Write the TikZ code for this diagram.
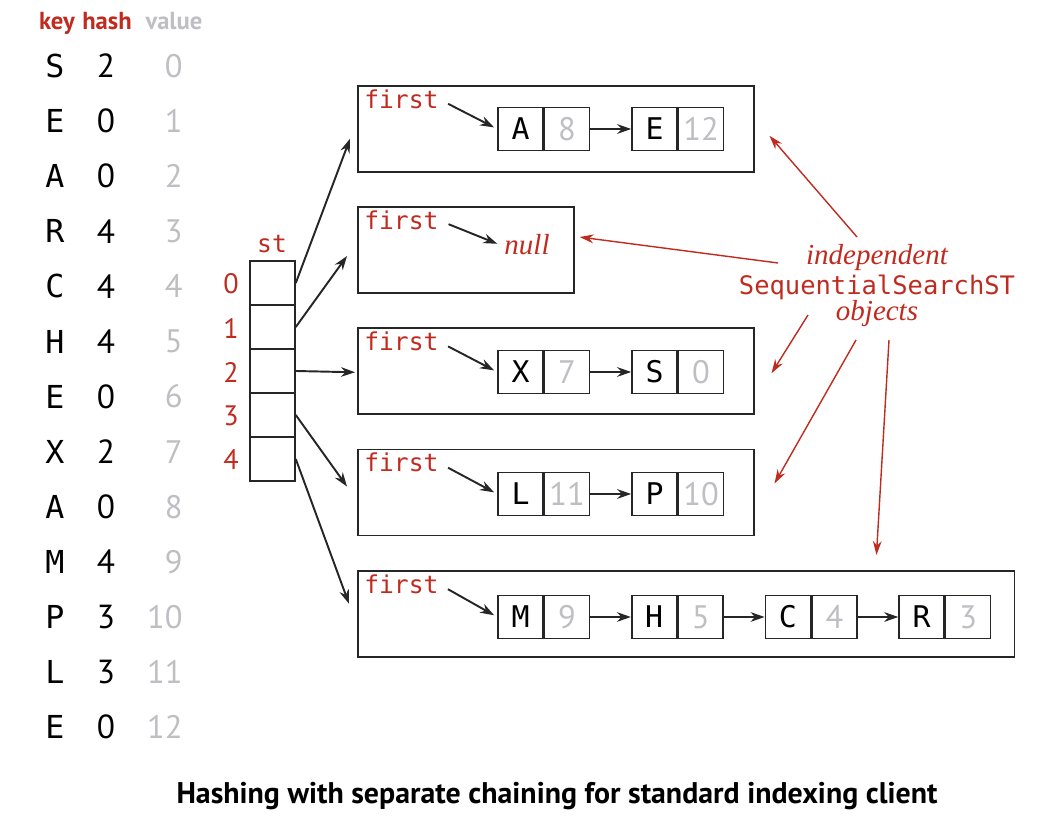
\documentclass[tikz,border=0pt]{standalone}
\usepackage{fontspec}
\setmonofont{DejaVu Sans Mono}
\setsansfont{PT Sans}
\newfontfamily\annotfont{Liberation Serif}
\usetikzlibrary{positioning,arrows.meta}

\begin{document}
\begin{tikzpicture}[x=0.02cm, y=-0.02cm, node distance=0pt]
\definecolor{hashred}{RGB}{192,43,32}
\definecolor{valgray}{RGB}{190,190,195}
\tikzset{
    cell/.style={draw=black!85, line width=0.9pt, minimum width=0.9cm, minimum height=0.86cm, inner sep=0pt, font=\ttfamily\fontsize{17}{17}\selectfont},
    valcell/.style={cell, text=valgray, font=\sffamily\fontsize{18.5}{18.5}\selectfont},
    listbox/.style={draw=black!85, line width=0.9pt, minimum height=1.72cm, inner sep=0pt, anchor=north west},
    redtt/.style={text=hashred, inner sep=0pt, font=\ttfamily\fontsize{14}{14}\selectfont},
    reddig/.style={text=hashred, inner sep=0pt, font=\sffamily\fontsize{16}{16}\selectfont},
    redit/.style={text=hashred, inner sep=0pt, anchor=base, font=\annotfont\itshape\fontsize{16.5}{16.5}\selectfont},
    hdr/.style={inner sep=0pt, anchor=base, font=\sffamily\bfseries\fontsize{14}{14}\selectfont},
    keytxt/.style={inner sep=0pt, font=\ttfamily\fontsize{18}{18}\selectfont},
    hashtxt/.style={inner sep=0pt, font=\sffamily\fontsize{19}{19}\selectfont},
    valtxt/.style={inner sep=0pt, anchor=east, text=valgray, font=\sffamily\fontsize{18.5}{18.5}\selectfont},
    ptr/.style={-{Stealth[length=8pt, width=5.5pt]}, line width=1.1pt, black!85},
    redptr/.style={-{Stealth[length=8pt, width=5pt]}, line width=0.8pt, hashred},
}
\useasboundingbox (0,0) rectangle (1048,830);

% Tabelle key / hash / value
\node[hdr, text=hashred] (hkey) at (57,30) {key};
\node[hdr, text=hashred] (hhash) at (107,30) {hash};
\node[hdr, text=valgray] (hval) at (174,30) {value};
\foreach \k/\h [count=\r from 0] in {S/2,E/0,A/0,R/4,C/4,H/4,E/0,X/2,A/0,M/4,P/3,L/3,E/0} {
    \node[keytxt] (tkey\r) at (55,66+\r*55.1) {\k};
    \node[hashtxt] (thash\r) at (106,66+\r*55.1) {\h};
    \node[valtxt] (tval\r) at (183,66+\r*55.1) {\r};
}

% Array st
\node[redtt] (stlbl) at (272,244) {st};
\foreach \i in {0,...,4} {
    \node[cell, minimum height=0.88cm] (st\i) at (272.5,283+\i*44) {};
    \node[reddig] (idx\i) at (231,284+\i*44) {\i};
}

% Listen (SequentialSearchST)
\foreach \i/\w in {0/7.92, 1/4.32, 2/7.92, 3/7.92, 4/13.14} {
    \node[listbox, minimum width=\w cm] (list\i) at (357,85+\i*121.25) {};
    \node[redtt, anchor=west] (first\i) at (364,99+\i*121.25) {first};
}

% Liste 0
\foreach \k/\v [count=\j] in {A/8, E/12} {
    \node[cell] (elemk0\j) at (520.5+\j*134-134,129) {\k};
    \node[valcell, right=of elemk0\j] (elemv0\j) {\v};
}
\draw[ptr] (elemv01.east) -- (elemk02.west);

% Liste 1 (leer)
\node[redit, inner sep=2pt] (null) at (527,255) {null};

% Liste 2
\foreach \k/\v [count=\j] in {X/7, S/0} {
    \node[cell] (elemk2\j) at (520.5+\j*134-134,372) {\k};
    \node[valcell, right=of elemk2\j] (elemv2\j) {\v};
}
\draw[ptr] (elemv21.east) -- (elemk22.west);

% Liste 3
\foreach \k/\v [count=\j] in {L/11, P/10} {
    \node[cell] (elemk3\j) at (520.5+\j*134-134,494) {\k};
    \node[valcell, right=of elemk3\j] (elemv3\j) {\v};
}
\draw[ptr] (elemv31.east) -- (elemk32.west);

% Liste 4
\foreach \k/\v [count=\j] in {M/9, H/5, C/4, R/3} {
    \node[cell] (elemk4\j) at (520.5+\j*133.7-133.7,617) {\k};
    \node[valcell, right=of elemk4\j] (elemv4\j) {\v};
}
\foreach \j/\n in {1/2, 2/3, 3/4} {
    \draw[ptr] (elemv4\j.east) -- (elemk4\n.west);
}

% first -> erstes Element
\foreach \i in {0,2,3,4} {
    \draw[ptr, shorten <=6pt, shorten >=2pt] (first\i.east) -- (elemk\i1.west);
}
\draw[ptr, shorten <=6pt, shorten >=2pt] (first1.east) -- (null.west);

% st -> Listen
\foreach \i/\dx/\dy in {0/-7/10, 1/-10/6, 2/-2/1, 3/-10/-6, 4/-8/-10} {
    \draw[ptr] (st\i.east) -- ([shift={(\dx,\dy)}]list\i.west);
}

% Beschriftung
\node[redit] (indep) at (877,265) {independent};
\node[redtt, anchor=base, text depth=0pt, font=\ttfamily\fontsize{14.5}{14.5}\selectfont] (ssst) at (877,295) {SequentialSearchST};
\node[redit] (objs) at (877,321) {objects};
\draw[redptr] ([shift={(-20,-28)}]indep.base) -- ([shift={(15,7)}]list0.east);
\draw[redptr] ([shift={(-99,-2)}]indep.base) -- ([shift={(5,-13)}]list1.east);
\draw[redptr] ([shift={(-69,20)}]ssst.base) -- ([shift={(17,2)}]list2.east);
\draw[redptr] ([shift={(-21,19)}]objs.base) -- ([shift={(20,-9)}]list3.east);
\draw[redptr] ([shift={(12,19)}]objs.base) -- ([shift={(-139,-15)}]list4.north east);

% Titel
\node[hdr, font=\sffamily\bfseries\fontsize{17}{17}\selectfont] (title) at (557,803) {Hashing with separate chaining for standard indexing client};
\end{tikzpicture}
\end{document}
